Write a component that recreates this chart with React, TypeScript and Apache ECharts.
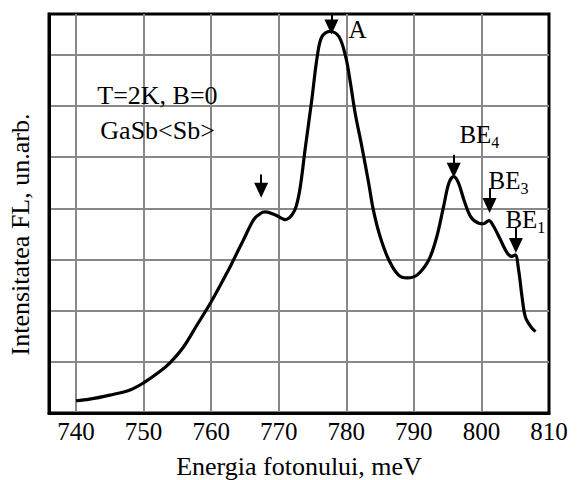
import React, { useEffect, useRef } from "react";
import * as echarts from "echarts";

// Photon energy (meV) and PL intensity (arb. units)
const energy = [
  740.0, 742.0, 745.0, 748.0, 750.0, 752.4, 753.9, 755.9, 757.9, 759.9,
  762.3, 763.3, 764.8, 766.3, 767.3, 768.0, 769.5, 771.0, 772.0, 772.6,
  773.2, 773.9, 774.9, 775.7, 776.4, 777.6, 778.9, 779.9, 780.6, 781.3,
  782.3, 783.3, 784.0, 785.0, 786.3, 787.7, 789.0, 790.5, 792.2, 793.4,
  794.4, 795.2, 795.9, 796.6, 797.4, 798.4, 799.6, 800.3, 801.1,
  801.8, 802.8, 803.8, 804.5, 805.0, 805.5, 806.0, 806.5, 807.3, 808.0,
];
const intensity = [
  0.24, 0.27, 0.35, 0.45, 0.59, 0.81, 0.98, 1.29, 1.72, 2.15,
  2.73, 2.99, 3.39, 3.78, 3.9, 3.93, 3.87, 3.78, 3.88, 4.05,
  4.43, 5.15, 6.13, 6.97, 7.36, 7.46, 7.36, 6.97, 6.46, 5.87,
  5.21, 4.5, 3.97, 3.45, 2.99, 2.7, 2.64, 2.7, 2.99, 3.45,
  4.04, 4.5, 4.62, 4.5, 4.17, 3.84, 3.71, 3.7, 3.76,
  3.65, 3.39, 3.13, 3.06, 3.09, 2.8, 2.28, 1.88, 1.69, 1.59,
];

// Arrows marking features
const arrowEnergy = [767.4, 777.8, 795.9, 801.2, 805.1];
const arrowFrom = [4.66, 7.8, 5.05, 4.4, 3.62];
const arrowTip = [4.21, 7.4, 4.6, 3.91, 3.13];

// Peak labels
const peakName = ["A", "BE", "BE", "BE"];
const peakSub = ["", "4", "3", "1"];
const peakEnergy = [780.3, 796.7, 801.0, 803.5];
const peakIntensity = [7.48, 5.47, 4.57, 3.81];

// Notes
const notes = ["T=2K, B=0", "GaSb<Sb>"];
const noteEnergy = [743.1, 743.55];
const noteIntensity = [6.19, 5.51];

const xTitle = "Energia fotonului, meV";
const yTitle = "Intensitatea FL, un.arb.";

const FONT = "Liberation Serif";

export default function App() {
  const ref = useRef<HTMLDivElement>(null);
  useEffect(() => {
    if (!ref.current) return;
    const chart = echarts.init(ref.current, null, { renderer: "svg" });
    const headHalf = 0.145;
    const arrows = arrowEnergy.map((x, i) => [
      { coord: [x, arrowFrom[i]] },
      { coord: [x, arrowTip[i] + headHalf] },
    ]);
    const peakPoints = peakName.map((n, i) => ({
      coord: [peakEnergy[i], peakIntensity[i]],
      symbolSize: 1,
      itemStyle: { color: "transparent" },
      label: {
        show: true,
        position: "right",
        distance: 0,
        offset: [0, peakSub[i] ? 2 : 0],
        formatter: peakSub[i] ? `{b|${n}}{s|${peakSub[i]}}` : `{b|${n}}`,
        rich: {
          b: { fontFamily: FONT, fontSize: 25, lineHeight: 25, color: "#000", verticalAlign: "top" },
          s: { fontFamily: FONT, fontSize: 16, lineHeight: 16, color: "#000", verticalAlign: "top", padding: [12, 0, 0, 0] },
        },
      },
    }));
    const notePoints = notes.map((t, i) => ({
      coord: [noteEnergy[i], noteIntensity[i]],
      symbolSize: 1,
      itemStyle: { color: "transparent" },
      label: {
        show: true,
        position: "right",
        distance: 0,
        formatter: `{n|${t}}`,
        rich: { n: { fontFamily: FONT, fontSize: 26, color: "#000" } },
      },
    }));

    chart.setOption({
      animation: false,
      backgroundColor: "#fff",
      textStyle: { fontFamily: FONT },
      grid: {
        left: 49, right: 28, top: 14, bottom: 67,
        show: true, borderColor: "#000", borderWidth: 3, backgroundColor: "transparent",
        containLabel: false, outerBoundsMode: "none",
      },
      xAxis: {
        type: "value",
        min: 736,
        max: 810,
        splitNumber: 7,
        name: xTitle,
        nameLocation: "middle",
        nameGap: 40,
        nameMoveOverlap: false,
        nameTextStyle: { fontFamily: FONT, fontSize: 26, color: "#000" },
        axisLine: { show: true, onZero: false, lineStyle: { color: "#000", width: 3 } },
        axisTick: { show: false },
        axisLabel: { showMinLabel: false, fontFamily: FONT, fontSize: 25, color: "#000", margin: 6 },
        splitLine: { show: true, showMinLine: false, showMaxLine: false, lineStyle: { color: "#888", width: 2 } },
      },
      yAxis: {
        type: "value",
        min: 0,
        max: 7.8,
        interval: 1,
        name: yTitle,
        nameLocation: "middle",
        nameGap: 16,
        nameRotate: 90,
        nameMoveOverlap: false,
        nameTextStyle: { fontFamily: FONT, fontSize: 26, color: "#000", padding: [0, 42, 0, 0] },
        axisLine: { show: true, lineStyle: { color: "#000", width: 3 } },
        axisTick: { show: false },
        axisLabel: { show: false },
        splitLine: { show: true, showMinLine: false, showMaxLine: false, lineStyle: { color: "#888", width: 2 } },
      },
      series: [
        {
          type: "line",
          data: energy.map((e, i) => [e, intensity[i]]),
          smooth: 0.35,
          showSymbol: false,
          symbol: "none",
          lineStyle: { color: "#000", width: 3.2 },
          z: 3,
          markLine: {
            silent: true,
            symbol: ["none", "triangle"],
            symbolSize: [14, 15],
            lineStyle: { color: "#000", width: 2, type: "solid" },
            itemStyle: { color: "#000" },
            label: { show: false },
            emphasis: { disabled: true },
            data: arrows,
          },
          markPoint: {
            silent: true,
            data: [...peakPoints, ...notePoints],
          },
        },
      ],
    });
    return () => chart.dispose();
  }, []);
  return (
    <div
      ref={ref}
      style={{ position: "fixed", left: 0, top: 0, width: 577, height: 480 }}
    />
  );
}
